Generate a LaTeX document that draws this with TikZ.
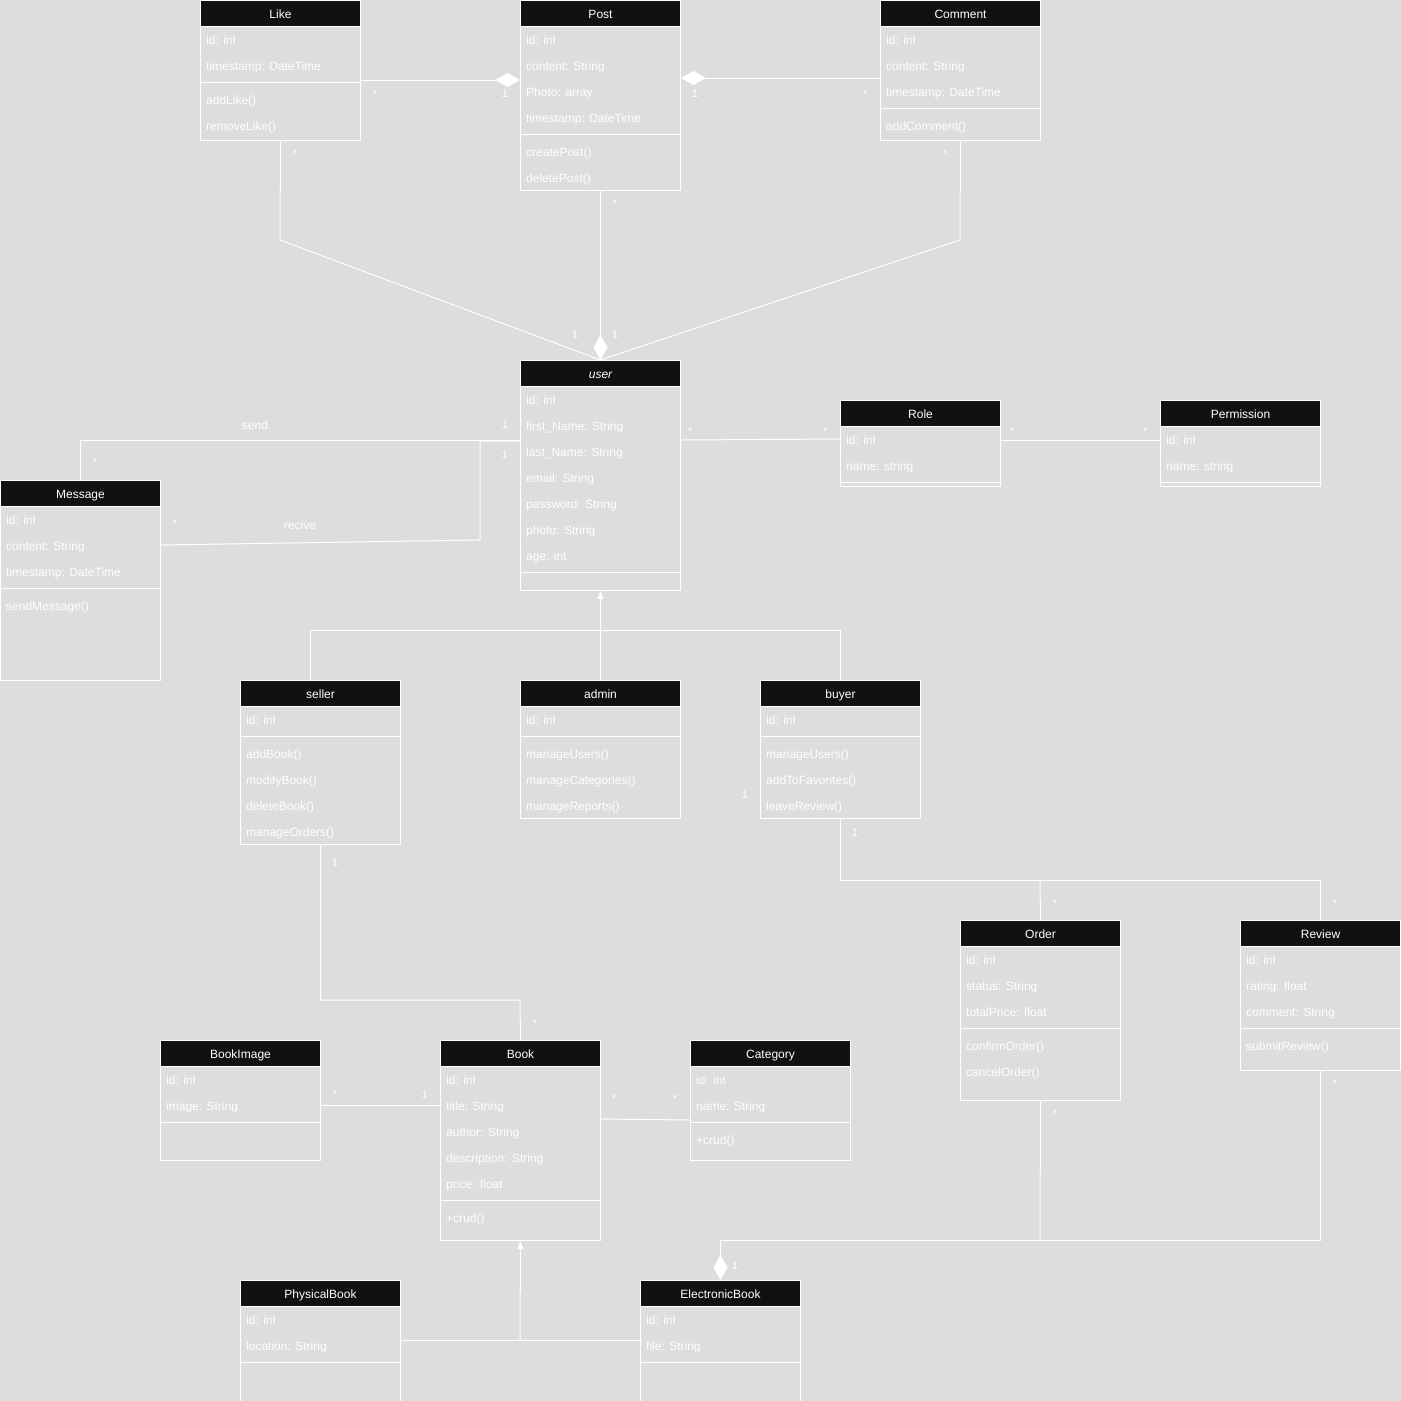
\documentclass[tikz,border=0pt]{standalone}
\usepackage{fontspec}
\setmainfont{Liberation Sans}
\usetikzlibrary{arrows.meta}
\definecolor{canvas}{HTML}{DDDDDD}
\definecolor{headfill}{HTML}{111111}

\begin{document}
\begin{tikzpicture}[x=1pt, y=-1pt]
    \tikzset{
      classbox/.style={draw=white, line width=1pt, minimum width=160pt, inner sep=0pt, anchor=north west},
      classhead/.style={draw=white, line width=1pt, fill=headfill, text=white, minimum width=160pt, minimum height=26pt, inner sep=0pt, anchor=north west, font=\fontsize{12}{14}\selectfont, text height=10.6pt, text depth=0pt},
      row/.style={anchor=west, inner sep=0pt, text=white, font=\fontsize{12}{14}\selectfont, text height=10.6pt, text depth=0pt},
      link/.style={draw=white, line width=1pt},
      mult/.style={inner sep=0pt, text=white, font=\fontsize{11}{13}\selectfont},
      whole/.style={-{Diamond[length=25pt, width=14pt]}},
      inherit/.style={-{Triangle[length=8pt, width=6pt]}}
    }
    \useasboundingbox (0,0) rectangle (1401,1401);
    \fill[canvas] (0,0) rectangle (1401,1401);

    % Like
    \node[classbox, minimum height=140pt] (like) at (200,0) {};
    \node[classhead] (likehead) at (200,0) {Like};
    \node[row] (like1) at (206,39) {id: int};
    \node[row] (like2) at (206,65) {timestamp: DateTime};
    \draw[link] (200,82) -- (360,82);
    \node[row] (like3) at (206,99) {addLike()};
    \node[row] (like4) at (206,125) {removeLike()};

    % Post
    \node[classbox, minimum height=190pt] (post) at (520,0) {};
    \node[classhead] (posthead) at (520,0) {Post};
    \node[row] (post1) at (526,39) {id: int};
    \node[row] (post2) at (526,65) {content: String};
    \node[row] (post3) at (526,91) {Photo: array};
    \node[row] (post4) at (526,117) {timestamp: DateTime};
    \draw[link] (520,134) -- (680,134);
    \node[row] (post5) at (526,151) {createPost()};
    \node[row] (post6) at (526,177) {deletePost()};

    % Comment
    \node[classbox, minimum height=140pt] (comment) at (880,0) {};
    \node[classhead] (commenthead) at (880,0) {Comment};
    \node[row] (comment1) at (886,39) {id: int};
    \node[row] (comment2) at (886,65) {content: String};
    \node[row] (comment3) at (886,91) {timestamp: DateTime};
    \draw[link] (880,108) -- (1040,108);
    \node[row] (comment4) at (886,125) {addComment()};

    % user
    \node[classbox, minimum height=230pt] (user) at (520,360) {};
    \node[classhead, font=\fontsize{12}{14}\selectfont\itshape] (userhead) at (520,360) {user};
    \node[row] (user1) at (526,399) {id: int};
    \node[row] (user2) at (526,425) {first\_Name: String};
    \node[row] (user3) at (526,451) {last\_Name: String};
    \node[row] (user4) at (526,477) {email: String};
    \node[row] (user5) at (526,503) {password: String};
    \node[row] (user6) at (526,529) {photo: String};
    \node[row] (user7) at (526,555) {age: int};
    \draw[link] (520,572) -- (680,572);

    % Message
    \node[classbox, minimum height=200pt] (message) at (0,480) {};
    \node[classhead] (messagehead) at (0,480) {Message};
    \node[row] (message1) at (6,519) {id: int};
    \node[row] (message2) at (6,545) {content: String};
    \node[row] (message3) at (6,571) {timestamp: DateTime};
    \draw[link] (0,588) -- (160,588);
    \node[row] (message4) at (6,605) {sendMessage()};

    % Role
    \node[classbox, minimum height=86pt] (role) at (840,400) {};
    \node[classhead] (rolehead) at (840,400) {Role};
    \node[row] (role1) at (846,439) {id: int};
    \node[row] (role2) at (846,465) {name: string};
    \draw[link] (840,482) -- (1000,482);

    % Permission
    \node[classbox, minimum height=86pt] (perm) at (1160,400) {};
    \node[classhead] (permhead) at (1160,400) {Permission};
    \node[row] (perm1) at (1166,439) {id: int};
    \node[row] (perm2) at (1166,465) {name: string};
    \draw[link] (1160,482) -- (1320,482);

    % seller
    \node[classbox, minimum height=164pt] (seller) at (240,680) {};
    \node[classhead] (sellerhead) at (240,680) {seller};
    \node[row] (seller1) at (246,719) {id: int};
    \draw[link] (240,736) -- (400,736);
    \node[row] (seller2) at (246,753) {addBook()};
    \node[row] (seller3) at (246,779) {modifyBook()};
    \node[row] (seller4) at (246,805) {deleteBook()};
    \node[row] (seller5) at (246,831) {manageOrders()};

    % admin
    \node[classbox, minimum height=138pt] (admin) at (520,680) {};
    \node[classhead] (adminhead) at (520,680) {admin};
    \node[row] (admin1) at (526,719) {id: int};
    \draw[link] (520,736) -- (680,736);
    \node[row] (admin2) at (526,753) {manageUsers()};
    \node[row] (admin3) at (526,779) {manageCategories()};
    \node[row] (admin4) at (526,805) {manageReports()};

    % buyer
    \node[classbox, minimum height=138pt] (buyer) at (760,680) {};
    \node[classhead] (buyerhead) at (760,680) {buyer};
    \node[row] (buyer1) at (766,719) {id: int};
    \draw[link] (760,736) -- (920,736);
    \node[row] (buyer2) at (766,753) {manageUsers()};
    \node[row] (buyer3) at (766,779) {addToFavorites()};
    \node[row] (buyer4) at (766,805) {leaveReview()};

    % Order
    \node[classbox, minimum height=180pt] (order) at (960,920) {};
    \node[classhead] (orderhead) at (960,920) {Order};
    \node[row] (order1) at (966,959) {id: int};
    \node[row] (order2) at (966,985) {status: String};
    \node[row] (order3) at (966,1011) {totalPrice: float};
    \draw[link] (960,1028) -- (1120,1028);
    \node[row] (order4) at (966,1045) {confirmOrder()};
    \node[row] (order5) at (966,1071) {cancelOrder()};

    % Review
    \node[classbox, minimum height=150pt] (review) at (1240,920) {};
    \node[classhead] (reviewhead) at (1240,920) {Review};
    \node[row] (review1) at (1246,959) {id: int};
    \node[row] (review2) at (1246,985) {rating: float};
    \node[row] (review3) at (1246,1011) {comment: String};
    \draw[link] (1240,1028) -- (1400,1028);
    \node[row] (review4) at (1246,1045) {submitReview()};

    % BookImage
    \node[classbox, minimum height=120pt] (bimg) at (160,1040) {};
    \node[classhead] (bimghead) at (160,1040) {BookImage};
    \node[row] (bimg1) at (166,1079) {id: int};
    \node[row] (bimg2) at (166,1105) {image: String};
    \draw[link] (160,1122) -- (320,1122);

    % Book
    \node[classbox, minimum height=200pt] (book) at (440,1040) {};
    \node[classhead] (bookhead) at (440,1040) {Book};
    \node[row] (book1) at (446,1079) {id: int};
    \node[row] (book2) at (446,1105) {title: String};
    \node[row] (book3) at (446,1131) {author: String};
    \node[row] (book4) at (446,1157) {description: String};
    \node[row] (book5) at (446,1183) {price: float};
    \draw[link] (440,1200) -- (600,1200);
    \node[row] (book6) at (446,1217) {+crud()};

    % Category
    \node[classbox, minimum height=120pt] (category) at (690,1040) {};
    \node[classhead] (categoryhead) at (690,1040) {Category};
    \node[row] (category1) at (696,1079) {id: int};
    \node[row] (category2) at (696,1105) {name: String};
    \draw[link] (690,1122) -- (850,1122);
    \node[row] (category3) at (696,1139) {+crud()};

    % PhysicalBook
    \node[classbox, minimum height=125pt] (pbook) at (240,1280) {};
    \node[classhead] (pbookhead) at (240,1280) {PhysicalBook};
    \node[row] (pbook1) at (246,1319) {id: int};
    \node[row] (pbook2) at (246,1345) {location: String};
    \draw[link] (240,1362) -- (400,1362);

    % ElectronicBook
    \node[classbox, minimum height=125pt] (ebook) at (640,1280) {};
    \node[classhead] (ebookhead) at (640,1280) {ElectronicBook};
    \node[row] (ebook1) at (646,1319) {id: int};
    \node[row] (ebook2) at (646,1345) {file: String};
    \draw[link] (640,1362) -- (800,1362);

    % Joints
    \coordinate (likebend) at (280,240);
    \coordinate (commentbend) at (960,240);
    \coordinate (rcvlow) at (480,540);
    \coordinate (rcvhigh) at (480,441);
    \coordinate (genbar) at (600,630);
    \coordinate (buyjoin) at (1040,880);
    \coordinate (ebjoin) at (1040,1240);
    \coordinate (sellbook) at (520,1000);
    \coordinate (bookjoin) at (520,1340);

    % Post associations
    \draw[link, whole] ([yshift=-80pt]like.north east) -- ([yshift=-80pt]post.north west);
    \draw[link, whole] ([yshift=-78pt]comment.north west) -- ([yshift=-78pt]post.north east);
    \draw[link] (like.south) -- (likebend) -- (user.north);
    \draw[link] (comment.south) -- (commentbend) -- (user.north);
    \draw[link, whole] (post.south) -- (user.north);

    % Message associations
    \draw[link] ([yshift=-80pt]user.north west) -| (message.north);
    \draw[link] ([yshift=-65pt]message.north east) -- (rcvlow) -- (rcvhigh) -- ([yshift=-81pt]user.north west);
    \node[row, anchor=center] (sendlabel) at (255,424) {send};
    \node[row, anchor=center] (recivelabel) at (300,524) {recive};

    % Role and Permission
    \draw[link] ([yshift=-80pt]user.north east) -- ([yshift=-39pt]role.north west);
    \draw[link] ([yshift=-40pt]role.north east) -- ([yshift=-40pt]perm.north west);

    % Inheritance of user
    \draw[link] ([xshift=-10pt]seller.north) |- (genbar) -| (buyer.north);
    \draw[link, inherit] (admin.north) -- (user.south);

    % buyer to Order and Review
    \draw[link] (buyer.south) |- (buyjoin) -| (review.north);
    \draw[link] (buyjoin) -- (order.north);

    % Order and Review to ElectronicBook
    \draw[link, whole] (review.south) |- (ebjoin) -| (ebook.north);
    \draw[link] (order.south) -- (ebjoin);

    % Book associations
    \draw[link] (seller.south) |- (sellbook) -- (book.north);
    \draw[link] ([yshift=-65pt]bimg.north east) -- ([yshift=-65pt]book.north west);
    \draw[link] ([yshift=-79pt]book.north east) -- ([yshift=-80pt]category.north west);

    % Inheritance of Book
    \draw[link] ([yshift=-60pt]pbook.north east) -- ([yshift=-60pt]ebook.north west);
    \draw[link, inherit] (bookjoin) -- (book.south);

    % Multiplicities
    \node[mult] (m1) at (375,94) {*};
    \node[mult] (m2) at (505,94) {1};
    \node[mult] (m3) at (695,94) {1};
    \node[mult] (m4) at (865,94) {*};
    \node[mult] (m5) at (295,154) {*};
    \node[mult] (m6) at (615,204) {*};
    \node[mult] (m7) at (945,154) {*};
    \node[mult] (m8) at (575,335) {1};
    \node[mult] (m9) at (615,335) {1};
    \node[mult] (m10) at (505,425) {1};
    \node[mult] (m11) at (95,462) {*};
    \node[mult] (m12) at (175,524) {*};
    \node[mult] (m13) at (505,455) {1};
    \node[mult] (m14) at (690,432) {*};
    \node[mult] (m15) at (825,432) {*};
    \node[mult] (m16) at (1012,432) {*};
    \node[mult] (m17) at (1145,432) {*};
    \node[mult] (m18) at (745,795) {1};
    \node[mult] (m19) at (855,833) {1};
    \node[mult] (m20) at (1055,904) {*};
    \node[mult] (m21) at (1335,904) {*};
    \node[mult] (m22) at (1055,1114) {*};
    \node[mult] (m23) at (1335,1084) {*};
    \node[mult] (m24) at (735,1266) {1};
    \node[mult] (m25) at (335,863) {1};
    \node[mult] (m26) at (535,1024) {*};
    \node[mult] (m27) at (335,1094) {*};
    \node[mult] (m28) at (425,1095) {1};
    \node[mult] (m29) at (614,1099) {*};
    \node[mult] (m30) at (675,1099) {*};
\end{tikzpicture}
\end{document}
